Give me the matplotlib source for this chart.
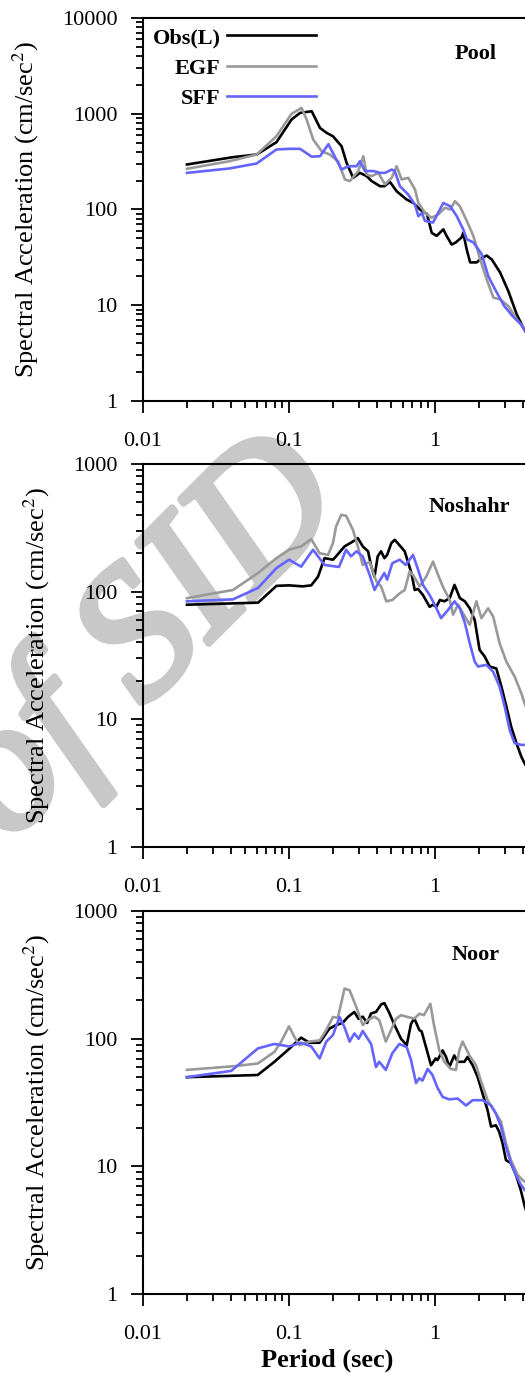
import matplotlib
matplotlib.use("Agg")
import matplotlib.pyplot as plt
import matplotlib.patheffects as pe
from matplotlib.ticker import LogLocator, NullFormatter

plt.rcParams['font.family'] = ['Liberation Serif', 'DejaVu Serif']
plt.rcParams['mathtext.fontset'] = 'stix'

# ---- Pool ----
pool_t_obs = [0.02, 0.0414, 0.06, 0.082, 0.104, 0.119, 0.143, 0.163, 0.181, 0.2, 0.229, 0.248,
              0.275, 0.306, 0.34, 0.368, 0.42, 0.45, 0.491, 0.546, 0.639, 0.71, 0.789, 0.854,
              0.88, 0.949, 1.026, 1.14, 1.2, 1.3, 1.38, 1.52, 1.56, 1.65, 1.74, 1.93, 2.09,
              2.26, 2.45, 2.79, 3.18, 3.63, 4.03, 4.5]
pool_sa_obs = [295, 352, 375, 504, 869, 1020, 1062, 711, 631, 582, 458, 307, 214, 241, 223,
               198, 175, 175, 194, 155, 127, 117, 100, 92, 90, 57, 53, 62, 53, 43, 45, 51, 57,
               38, 28, 28, 31, 33, 30, 22, 14, 8.0, 5.8, 4.3]
pool_t_egf = [0.02, 0.039, 0.06, 0.082, 0.104, 0.122, 0.132, 0.1465, 0.167, 0.19, 0.217,
              0.2415, 0.261, 0.298, 0.323, 0.34, 0.368, 0.409, 0.454, 0.505, 0.546, 0.59,
              0.656, 0.729, 0.769, 0.854, 0.949, 1.054, 1.17, 1.27, 1.37, 1.48, 1.65, 1.83,
              2.04, 2.26, 2.51, 2.79, 3.18, 3.63, 4.14, 4.5]
pool_sa_egf = [266, 319, 375, 582, 996, 1150, 869, 537, 407, 375, 319, 206, 198, 252, 360,
               232, 223, 241, 183, 214, 283, 206, 214, 162, 117, 92, 82, 89, 104, 100, 122,
               108, 76, 53, 30, 18.6, 12, 11.5, 9.8, 7.1, 5.6, 4.8]
pool_t_sff = [0.02, 0.039, 0.06, 0.082, 0.1, 0.119, 0.143, 0.163, 0.186, 0.229, 0.254, 0.29,
              0.306, 0.331, 0.38, 0.42, 0.454, 0.505, 0.53, 0.575, 0.656, 0.729, 0.769, 0.811,
              0.854, 0.97, 1.14, 1.27, 1.41, 1.56, 1.65, 1.84, 2.09, 2.32, 2.58, 2.98, 3.4,
              3.88, 4.2, 4.5]
pool_sa_sff = [241, 268, 302, 423, 430, 430, 356, 360, 480, 261, 283, 283, 319, 252, 252,
               241, 241, 261, 252, 175, 143, 112, 85, 92, 76, 73, 117, 108, 85, 62, 49, 45,
               34, 20, 14.6, 9.8, 7.7, 6.3, 5.2, 4.3]

# ---- Noshahr ----
nos_t_obs = [0.02, 0.0614, 0.082, 0.1, 0.124, 0.142, 0.158, 0.175, 0.2, 0.21, 0.24, 0.274,
             0.296, 0.32, 0.348, 0.366, 0.385, 0.405, 0.427, 0.45, 0.47, 0.502, 0.53, 0.573,
             0.62, 0.689, 0.726, 0.765, 0.827, 0.919, 0.969, 1.02, 1.08, 1.16, 1.26, 1.36,
             1.48, 1.6, 1.73, 1.87, 2.02, 2.19, 2.37, 2.63, 2.85, 3.08, 3.33, 3.61, 3.9,
             4.11, 4.5]
nos_sa_obs = [79, 82, 111, 112, 110, 112, 131, 183, 178, 189, 226, 247, 263, 226, 207, 157,
              131, 189, 207, 183, 194, 240, 255, 230, 207, 140, 103, 105, 94, 76, 79, 76, 86,
              84, 89, 113, 89, 84, 74, 60, 35, 31, 25.9, 25, 18, 12.6, 8.7, 6.5, 5.1, 4.5, 3.8]
nos_t_egf = [0.02, 0.0413, 0.0614, 0.082, 0.1, 0.121, 0.142, 0.162, 0.185, 0.2, 0.21, 0.228,
             0.246, 0.274, 0.296, 0.32, 0.357, 0.397, 0.427, 0.464, 0.51, 0.573, 0.62, 0.67,
             0.707, 0.785, 0.87, 0.969, 1.05, 1.13, 1.26, 1.33, 1.44, 1.6, 1.73, 1.92, 2.08,
             2.31, 2.5, 2.77, 3.08, 3.51, 3.9, 4.11, 4.5]
nos_sa_egf = [89, 103, 140, 183, 213, 226, 258, 200, 194, 240, 324, 400, 393, 305, 226, 162,
              170, 120, 110, 84, 86, 97, 103, 144, 135, 110, 131, 172, 135, 110, 86, 66, 79,
              64, 55, 84, 62, 74, 64, 39.4, 28.3, 21.6, 16, 13.3, 10.5]
nos_t_sff = [0.02, 0.0413, 0.0614, 0.082, 0.1, 0.121, 0.146, 0.175, 0.22, 0.246, 0.266, 0.29,
             0.32, 0.357, 0.385, 0.414, 0.45, 0.47, 0.51, 0.573, 0.63, 0.707, 0.765, 0.827,
             0.919, 0.995, 1.10, 1.23, 1.36, 1.48, 1.6, 1.73, 1.87, 1.97, 2.25, 2.5, 2.77,
             3.0, 3.25, 3.51, 3.9, 4.11, 4.5]
nos_sa_sff = [84, 87, 107, 153, 178, 157, 213, 162, 156, 213, 189, 207, 189, 135, 103, 120,
              140, 124, 167, 178, 162, 194, 149, 113, 94, 79, 62, 72, 84, 74, 57, 39.4, 28.3,
              25.9, 26.7, 23.6, 18, 12.6, 8.2, 6.5, 6.3, 6.3, 6.2]

# ---- Noor ----
noor_t_obs = [0.02, 0.061, 0.0795, 0.101, 0.121, 0.138, 0.162, 0.189, 0.21, 0.233, 0.253,
              0.28, 0.3, 0.32, 0.343, 0.365, 0.394, 0.428, 0.45, 0.483, 0.52, 0.585, 0.64,
              0.685, 0.722, 0.781, 0.81, 0.891, 0.939, 1.01, 1.04, 1.128, 1.19, 1.253, 1.355,
              1.43, 1.5, 1.59, 1.67, 1.81, 1.96, 2.12, 2.29, 2.42, 2.61, 2.75, 2.9, 3.06,
              3.31, 3.58, 3.87, 4.13, 4.5]
noor_sa_obs = [50, 52, 66, 84, 102, 93, 93, 120, 128, 133, 148, 162, 143, 149, 133, 158, 162,
               186, 190, 162, 133, 100, 89, 131, 144, 117, 114, 77, 62, 70, 68, 81, 72, 60, 74,
               66, 66, 66, 72, 62, 50, 37, 27.6, 20.5, 21, 18.7, 15.2, 11.2, 10.6, 8.6, 6.5,
               4.8, 3.6]
noor_t_egf = [0.02, 0.0424, 0.0612, 0.0795, 0.088, 0.1, 0.109, 0.118, 0.138, 0.162, 0.18,
              0.2, 0.216, 0.24, 0.26, 0.289, 0.32, 0.346, 0.385, 0.415, 0.46, 0.5, 0.54, 0.585,
              0.65, 0.722, 0.781, 0.84, 0.929, 0.98, 1.07, 1.158, 1.285, 1.39, 1.466, 1.545,
              1.63, 1.72, 1.91, 2.06, 2.29, 2.61, 2.83, 3.06, 3.31, 3.68, 3.98, 4.13, 4.5]
noor_sa_egf = [57, 61, 64, 79, 94, 125, 103, 89, 95, 97, 117, 148, 146, 247, 240, 177, 128,
               140, 149, 140, 95, 117, 143, 153, 148, 144, 157, 153, 188, 131, 81, 66, 58, 57,
               81, 95, 84, 74, 62, 47, 33, 26, 22.4, 15.2, 11.2, 8.6, 7.8, 7.6, 6.8]
noor_t_sff = [0.02, 0.0402, 0.0612, 0.0795, 0.1, 0.121, 0.142, 0.162, 0.18, 0.2, 0.222, 0.24,
              0.26, 0.28, 0.3, 0.32, 0.346, 0.365, 0.394, 0.415, 0.46, 0.51, 0.57, 0.64, 0.685,
              0.741, 0.78, 0.82, 0.891, 0.96, 1.043, 1.128, 1.25, 1.43, 1.63, 1.81, 2.12,
              2.42, 2.61, 2.83, 3.06, 3.31, 3.58, 3.87, 4.13, 4.5]
noor_sa_sff = [50, 56, 84, 91, 87, 93, 87, 70, 95, 107, 148, 123, 95, 110, 100, 115, 100, 91,
               60, 66, 57, 77, 91, 86, 68, 45, 49, 47, 58, 52, 41, 35, 33.5, 34, 30, 33, 33,
               30, 26, 20.5, 14.3, 10.6, 8.6, 7.2, 6.5, 6.0]

stations = ["Pool", "Noshahr", "Noor"]
series_labels = ["Obs(L)", "EGF", "SFF"]
series_colors = ["black", "#999999", "#6464ff"]
x_ticks = [0.01, 0.1, 1]
x_ticklabels = ["0.01", "0.1", "1"]

panels = [
    (pool_t_obs, pool_sa_obs, pool_t_egf, pool_sa_egf, pool_t_sff, pool_sa_sff),
    (nos_t_obs, nos_sa_obs, nos_t_egf, nos_sa_egf, nos_t_sff, nos_sa_sff),
    (noor_t_obs, noor_sa_obs, noor_t_egf, noor_sa_egf, noor_t_sff, noor_sa_sff),
]
y_tops = [10000, 1000, 1000]
bottoms = [0.7082, 0.3836, 0.0582]
name_pos = [(0.760, 0.906), (0.744, 0.888), (0.760, 0.885)]

fig = plt.figure(figsize=(5.25, 13.74), dpi=100)

# faint watermark seen behind the plots
wm = fig.text(0.278, 0.533, "of SID", rotation=45, fontsize=134, fontstyle="italic",
              color="#c8c8c8", ha="center", va="center", zorder=-1)
wm.set_path_effects([pe.withStroke(linewidth=5, foreground="#c8c8c8")])

for i, (data, name) in enumerate(zip(panels, stations)):
    ax = fig.add_axes([0.2724, bottoms[i], 0.8343, 0.2787])
    ax.set_facecolor("none")
    lines = []
    for k in range(3):
        ln, = ax.plot(data[2 * k], data[2 * k + 1], color=series_colors[k], lw=1.9,
                      label=series_labels[k])
        lines.append(ln)
    ax.set_xscale("log")
    ax.set_yscale("log")
    ax.set_xlim(0.01, 10)
    ax.set_ylim(1, y_tops[i])

    y_ticks = [10 ** p for p in range(0, len(str(y_tops[i])))]
    ax.set_yticks(y_ticks, labels=[str(v) for v in y_ticks])
    ax.set_xticks(x_ticks, labels=x_ticklabels)
    ax.xaxis.set_minor_locator(LogLocator(base=10, subs=range(2, 10)))
    ax.yaxis.set_minor_locator(LogLocator(base=10, subs=range(2, 10)))
    ax.xaxis.set_minor_formatter(NullFormatter())
    ax.yaxis.set_minor_formatter(NullFormatter())

    ax.tick_params(which="major", direction="out", length=8.5, width=1.3, labelsize=16)
    ax.tick_params(which="minor", direction="out", length=4.8, width=1.3)
    ax.tick_params(axis="x", which="major", pad=14)
    ax.tick_params(axis="y", which="major", pad=10)
    for sp in ax.spines.values():
        sp.set_linewidth(1.5)

    ax.set_ylabel("Spectral Acceleration (cm/sec$^2$)", fontsize=19, labelpad=15)
    ax.text(name_pos[i][0], name_pos[i][1], name, transform=ax.transAxes, fontsize=16,
            fontweight="bold", ha="center", va="center")

    if i == 0:
        ax.legend(handles=lines, loc="upper left", bbox_to_anchor=(0.022, 0.975),
                  frameon=False, markerfirst=False, prop={"weight": "bold", "size": 16},
                  handlelength=4.0, handletextpad=0.3, labelspacing=0.45,
                  borderpad=0, borderaxespad=0)
    if i == 2:
        ax.set_xlabel("Period (sec)", fontsize=19, fontweight="bold")
        ax.xaxis.set_label_coords(0.42, -0.142)

fig.savefig("out.png", dpi=100)
